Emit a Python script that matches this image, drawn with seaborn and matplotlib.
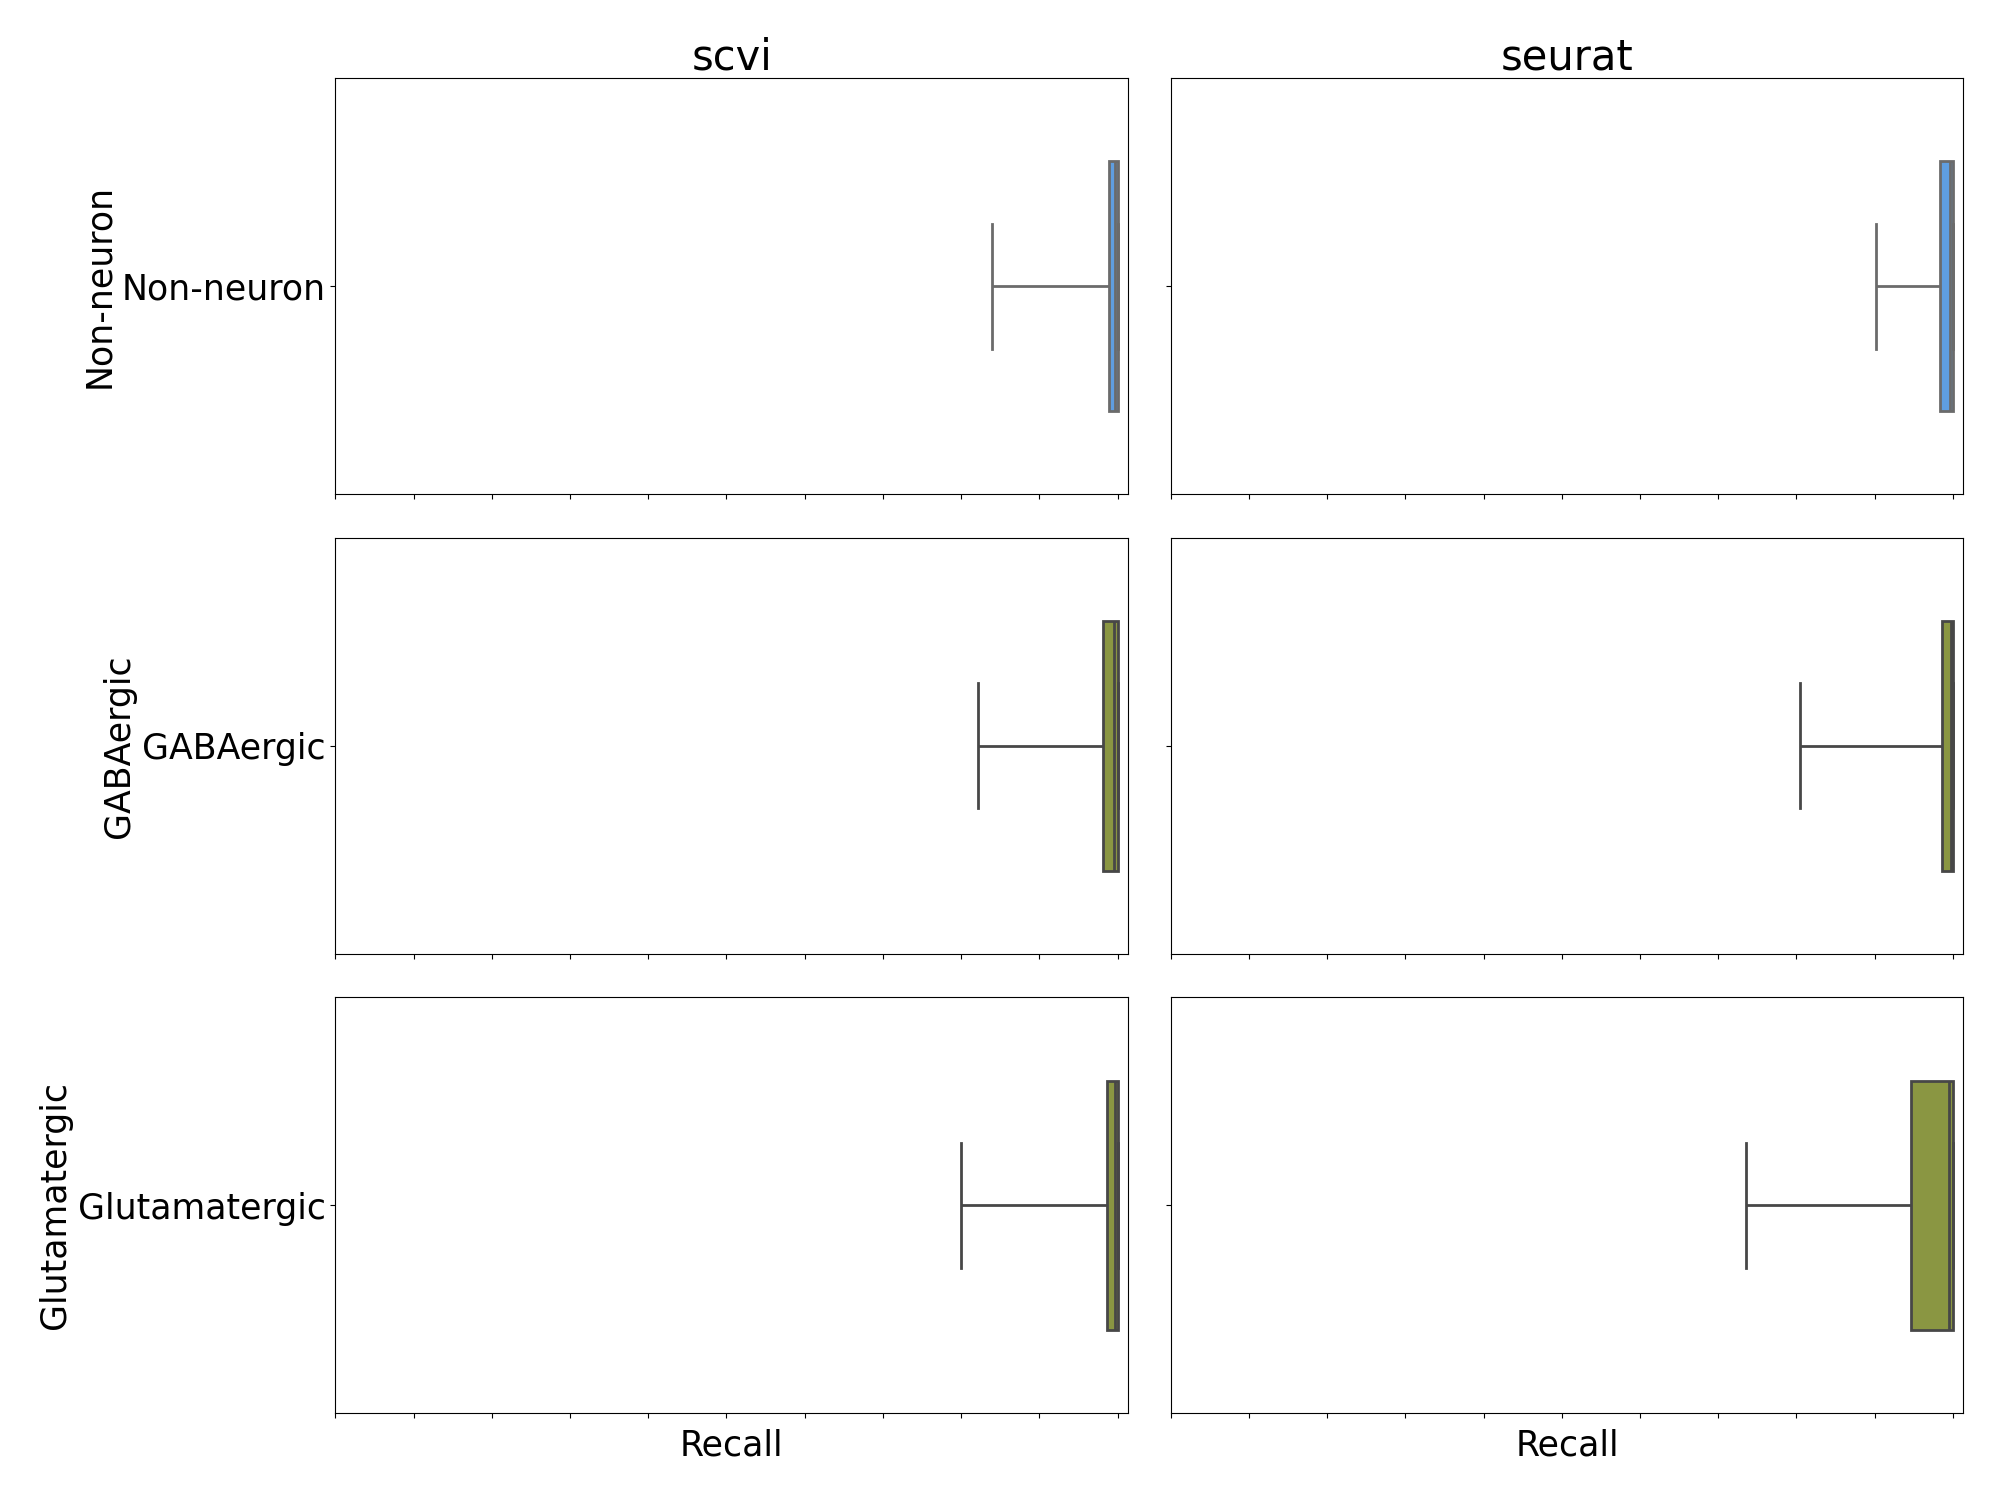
"""Per-class recall boxplots for scvi vs seurat label transfer."""

import numpy as np
import pandas as pd

import matplotlib

matplotlib.use("Agg")
import matplotlib.pyplot as plt
from matplotlib.ticker import MultipleLocator
import seaborn as sns


METHODS = ["scvi", "seurat"]
CLASSES = ["Non-neuron", "GABAergic", "Glutamatergic"]

# recall summary points per group: low whisker, q1, median, q3, high whisker
scvi_non_neuron = [0.840, 0.989, 0.997, 1.000, 1.000]
scvi_gabaergic = [0.821, 0.981, 0.996, 1.000, 1.000]
scvi_glutamatergic = [0.800, 0.986, 0.997, 1.000, 1.000]
seurat_non_neuron = [0.902, 0.984, 0.997, 1.000, 1.000]
seurat_gabaergic = [0.805, 0.986, 0.998, 1.000, 1.000]
seurat_glutamatergic = [0.735, 0.947, 0.995, 1.000, 1.000]

CLASS_COLORS = {"Non-neuron": "#5f9ee0", "GABAergic": "#8a9642", "Glutamatergic": "#8a9642"}
LINE_COLORS = {"Non-neuron": "#6b6b6b", "GABAergic": "#474747", "Glutamatergic": "#474747"}


def build_frame() -> pd.DataFrame:
    groups = {
        ("scvi", "Non-neuron"): scvi_non_neuron,
        ("scvi", "GABAergic"): scvi_gabaergic,
        ("scvi", "Glutamatergic"): scvi_glutamatergic,
        ("seurat", "Non-neuron"): seurat_non_neuron,
        ("seurat", "GABAergic"): seurat_gabaergic,
        ("seurat", "Glutamatergic"): seurat_glutamatergic,
    }
    rows = []
    for (method, cls), values in groups.items():
        for v in values:
            rows.append({"method": method, "class": cls, "recall": v})
    return pd.DataFrame(rows)


def main() -> None:
    df = build_frame()

    fig, axes = plt.subplots(3, 2, figsize=(20, 15), sharex=True, sharey="row")
    fig.subplots_adjust(left=0.1677, right=0.9817, top=0.9478, bottom=0.0578,
                        wspace=0.0537, hspace=0.105)

    for i, cls in enumerate(CLASSES):
        for j, method in enumerate(METHODS):
            ax = axes[i, j]
            sub = df[(df["class"] == cls) & (df["method"] == method)]
            sns.boxplot(
                data=sub,
                x="recall",
                y="class",
                color=CLASS_COLORS[cls],
                linecolor=LINE_COLORS[cls],
                saturation=1,
                width=0.6,
                whis=(0, 100),
                showfliers=False,
                linewidth=2,
                ax=ax,
            )
            ax.set_xlim(0, 1.0135)
            ax.xaxis.set_major_locator(MultipleLocator(0.1))
            ax.tick_params(axis="x", labelbottom=False)
            ax.tick_params(axis="y", labelsize=25)
            ax.set_ylabel(cls if j == 0 else "", fontsize=25)
            ax.set_xlabel("Recall" if i == len(CLASSES) - 1 else "", fontsize=25, labelpad=7.5)
            if i == 0:
                ax.set_title(method, fontsize=30)

    fig.savefig("out.png", dpi=100)
    plt.close(fig)


if __name__ == "__main__":
    main()
